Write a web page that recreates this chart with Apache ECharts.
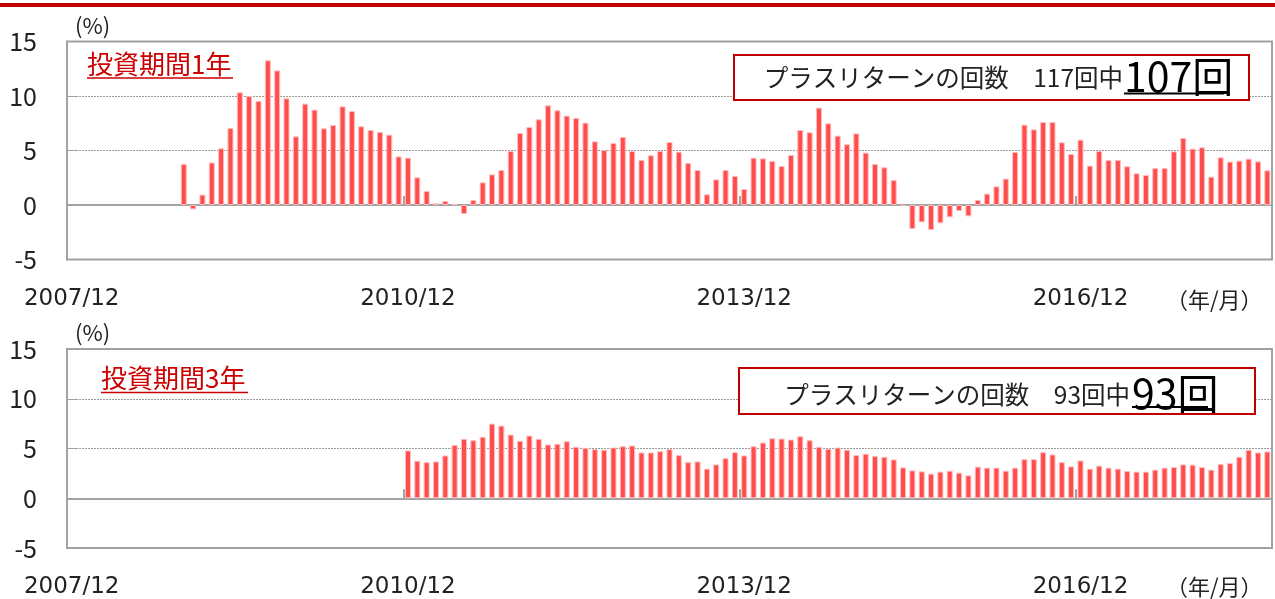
<!DOCTYPE html>
<html><head><meta charset="utf-8">
<script src="https://cdn.jsdelivr.net/npm/echarts@6/dist/echarts.min.js"></script>
<style>html,body{margin:0;padding:0;background:#fff}#c{width:1275px;height:599px}</style>
</head><body><div id="c"></div>
<script>
// ---- data ----
const firstYear = 2007, firstMonth = 12, monthCount = 129;   // 2007/12 .. 2018/08
const xLabelEvery = 36;                                          // 2007/12, 2010/12, 2013/12, 2016/12
const yMin = -5, yMax = 15, yStep = 5;

const title1 = '投資期間1年';
const title3 = '投資期間3年';
const unitLabel = '(%)';
const xUnitLabel = '（年/月）';
const box1Text = 'プラスリターンの回数　117回中';
const box1Big = '107回';
const box3Text = 'プラスリターンの回数　93回中';
const box3Big = '93回';

// 1-year return, monthly, 2008/12 .. 2018/08 (117 values)
const ret1yStartIndex = 12;
const ret1y = [
  3.76,
  -0.4, 0.95, 3.9, 5.2, 7.06, 10.34, 10.0, 9.54, 13.27, 12.35, 9.79, 6.3,
  9.3, 8.75, 7.03, 7.34, 9.05, 8.62, 7.22, 6.88, 6.7, 6.45, 4.46, 4.34,
  2.54, 1.28, 0.18, 0.37, 0.06, -0.83, 0.46, 2.08, 2.81, 3.21, 4.95, 6.6,
  7.16, 7.86, 9.14, 8.69, 8.2, 7.98, 7.55, 5.84, 5.05, 5.69, 6.24, 4.95,
  4.13, 4.56, 4.95, 5.78, 4.89, 3.85, 3.21, 0.98, 2.35, 3.21, 2.66, 1.47,
  4.34, 4.28, 4.04, 3.58, 4.59, 6.88, 6.67, 8.93, 7.49, 6.36, 5.57, 6.57,
  4.8, 3.76, 3.46, 2.29, -0.08, -2.2, -1.59, -2.29, -1.68, -1.13, -0.55, -1.04,
  0.46, 1.04, 1.71, 2.42, 4.86, 7.37, 6.94, 7.61, 7.61, 5.75, 4.68, 5.99,
  3.61, 4.95, 4.13, 4.13, 3.55, 2.91, 2.75, 3.39, 3.39, 4.92, 6.15, 5.17,
  5.29, 2.6, 4.37, 3.98, 4.07, 4.25, 4.0, 3.18
];
// 3-year return (annualised), monthly, 2010/12 .. 2018/08 (93 values)
const ret3yStartIndex = 36;
const ret3y = [
  4.8,
  3.77, 3.63, 3.7, 4.3, 5.37, 5.97, 5.83, 6.17, 7.5, 7.3, 6.4, 5.77,
  6.3, 5.97, 5.4, 5.47, 5.73, 5.17, 5.07, 4.93, 4.87, 5.1, 5.23, 5.3,
  4.6, 4.6, 4.73, 4.93, 4.33, 3.63, 3.7, 2.97, 3.4, 4.03, 4.63, 4.3,
  5.23, 5.6, 6.03, 6.0, 5.9, 6.23, 5.83, 5.17, 4.97, 5.1, 4.87, 4.33,
  4.47, 4.23, 4.17, 3.9, 3.1, 2.8, 2.7, 2.47, 2.67, 2.77, 2.57, 2.3,
  3.17, 3.07, 3.07, 2.77, 3.07, 3.93, 3.93, 4.63, 4.4, 3.63, 3.2, 3.8,
  2.97, 3.27, 3.07, 2.97, 2.73, 2.67, 2.67, 2.87, 3.07, 3.13, 3.4, 3.37,
  3.13, 2.87, 3.43, 3.53, 4.17, 4.87, 4.6, 4.7
];

// ---- build ----
const categories = [];
for (let i = 0; i < monthCount; i++) {
  const m0 = firstMonth - 1 + i;
  const y = firstYear + Math.floor(m0 / 12), m = (m0 % 12) + 1;
  categories.push(y + '/' + (m < 10 ? '0' + m : m));
}
function pad(start, arr) {
  const out = new Array(monthCount).fill(null);
  arr.forEach((v, i) => { out[start + i] = v; });
  return out;
}

const GRAY = '#a3a3a3';
const TXT = '#222';
const RED = '#c00000';
const CJK = '"Noto Sans CJK JP", sans-serif';
const LAT = '"DejaVu Sans", "Noto Sans CJK JP", sans-serif';

const grids = [
  { left: 67, right: 3, top: 41.5, height: 218, show: true, borderColor: GRAY, borderWidth: 2 },
  { left: 67, right: 3, top: 349, height: 200, show: true, borderColor: GRAY, borderWidth: 2 }
];
const xAxes = [], yAxes = [];
[0, 1].forEach(g => {
  xAxes.push({
    type: 'category', gridIndex: g, data: categories, position: 'bottom', boundaryGap: true,
    axisLine: { show: false, onZero: false }, axisTick: { show: false },
    axisLabel: { interval: xLabelEvery - 1, margin: 28, fontSize: 23, fontFamily: LAT, color: TXT }
  });
  xAxes.push({
    type: 'category', gridIndex: g, data: categories, position: 'bottom', boundaryGap: true,
    axisLine: { show: true, onZero: true, lineStyle: { color: GRAY, width: 2 } },
    axisTick: { show: true, inside: true, length: 9, interval: xLabelEvery - 1, lineStyle: { color: GRAY, width: 2 } },
    axisLabel: { show: false }
  });
  yAxes.push({
    type: 'value', gridIndex: g, min: yMin, max: yMax, interval: yStep,
    axisLine: { show: true, lineStyle: { color: GRAY, width: 2 } },
    axisTick: { show: true, inside: true, length: 9, lineStyle: { color: GRAY, width: 1 } },
    splitLine: { show: true, lineStyle: { color: '#9a9a9a', type: [2, 1], width: 1 } },
    axisLabel: { margin: 30, fontSize: 25, fontFamily: CJK, color: TXT }
  });
});

const barStyle = { color: '#ff4d4d', borderColor: '#ffbcbc', borderWidth: 1 };
const series = [
  { type: 'bar', xAxisIndex: 0, yAxisIndex: 0, data: pad(ret1yStartIndex, ret1y), barWidth: 6, itemStyle: barStyle, silent: true, z: 3 },
  { type: 'bar', xAxisIndex: 2, yAxisIndex: 1, data: pad(ret3yStartIndex, ret3y), barWidth: 6, itemStyle: barStyle, silent: true, z: 3 }
];

function txt(x, y, text, size, color, align, extra) {
  return Object.assign({ type: 'text', x: x, y: y, z: 20, style: Object.assign({
    text: text, fontSize: size, fontFamily: CJK, fill: color, align: align || 'left', verticalAlign: 'middle'
  }, extra || {}) });
}
function line(x1, y1, x2, y2, color, w) {
  return { type: 'line', z: 20, shape: { x1: x1, y1: y1, x2: x2, y2: y2 }, style: { stroke: color, lineWidth: w } };
}
function box(x, y, w, h) {
  return { type: 'rect', z: 15, shape: { x: x, y: y, width: w, height: h }, style: { fill: '#fff', stroke: RED, lineWidth: 2 } };
}

const graphic = [
  { type: 'rect', z: 20, shape: { x: 0, y: 3, width: 1275, height: 4 }, style: { fill: RED } },
  // panel 1
  txt(75, 26, unitLabel, 22, TXT),
  txt(87, 64, title1, 26, '#cc0000'),
  line(87, 78, 233, 78, '#cc0000', 1.5),
  box(734, 55, 515, 45),
  txt(1123, 78, box1Text, 24.5, TXT, 'right'),
  txt(1124, 76, box1Big, 41, '#000'),
  line(1124, 93.5, 1224, 93.5, '#000', 2),
  txt(1166, 300, xUnitLabel, 22, TXT),
  // panel 2
  txt(75, 333, unitLabel, 22, TXT),
  txt(101, 378, title3, 26, '#cc0000'),
  line(101, 392.5, 248, 392.5, '#cc0000', 1.5),
  box(739, 368, 516, 46),
  txt(1130, 395, box3Text, 24.5, TXT, 'right'),
  txt(1132, 393, box3Big, 41, '#000'),
  line(1132, 407, 1208, 407, '#000', 2),
  txt(1166, 587, xUnitLabel, 22, TXT)
];

const chart = echarts.init(document.getElementById('c'), null, { renderer: 'canvas' });
chart.setOption({
  animation: false,
  backgroundColor: '#fff',
  grid: grids, xAxis: xAxes, yAxis: yAxes, series: series, graphic: graphic
});
</script></body></html>
